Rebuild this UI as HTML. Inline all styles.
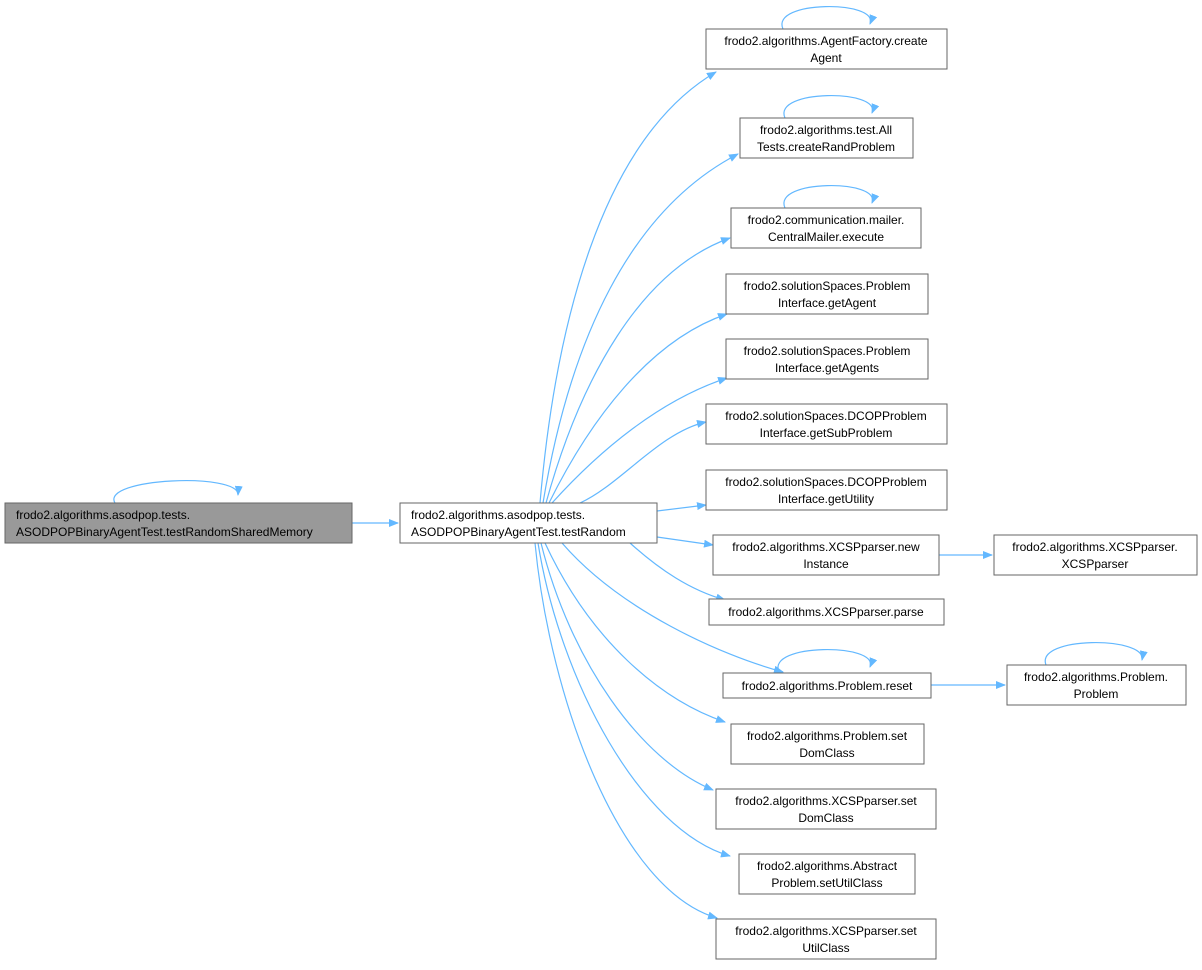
<!DOCTYPE html>
<html><head><meta charset="utf-8"><style>
html,body{margin:0;padding:0;background:#fff;}
svg text{font-family:"Liberation Sans",Helvetica,Arial,sans-serif;font-size:12px;fill:#000;}
</style></head><body>
<svg width="1202" height="965" viewBox="0 0 1202 965" xmlns="http://www.w3.org/2000/svg">
<defs>
<marker id="a" markerWidth="10" markerHeight="8" refX="9" refY="4" orient="auto" markerUnits="userSpaceOnUse">
<path d="M0,0 L10,4 L0,8 z" fill="#63b8ff"/>
</marker>
</defs>
<g fill="none" stroke="#63b8ff" stroke-width="1.2" marker-end="url(#a)">
<path d="M115,503 C100,478 240,472 238,495"/>
<path d="M783,29 C770,0 880,0 870,24"/>
<path d="M785,118 C772,89 882,89 872,113"/>
<path d="M785,208 C772,179 882,179 872,203"/>
<path d="M779,672 C766,643 880,643 870,667"/>
<path d="M1046,665 C1035,636 1147,636 1142,660"/>
<path d="M352,523 L398,523"/>
<path d="M540,503 C555,330 600,140 716,72"/>
<path d="M543,503 C570,340 630,210 738,154"/>
<path d="M546,503 C580,380 640,270 730,238"/>
<path d="M549,503 C590,420 650,340 727,314"/>
<path d="M552,503 C600,450 660,400 727,378"/>
<path d="M580,503 C620,485 660,432 706,422"/>
<path d="M657,511 L706,505"/>
<path d="M657,537 L713,545"/>
<path d="M630,543 C660,570 690,590 725,600"/>
<path d="M562,543 C620,610 720,655 783,672"/>
<path d="M545,543 C590,640 660,700 725,722"/>
<path d="M541,543 C570,660 640,760 713,790"/>
<path d="M538,543 C560,680 640,830 730,856"/>
<path d="M535,543 C550,700 620,890 717,918"/>
<path d="M939,555 L992,555"/>
<path d="M931,685 L1005,685"/>
</g>
<g stroke="#666" stroke-width="1">
<rect x="5" y="503" width="347" height="40" fill="#999"/>
<rect x="400" y="503" width="257" height="40" fill="#fff"/>
<rect x="706" y="29" width="241" height="40" fill="#fff"/>
<rect x="740" y="118" width="173" height="40" fill="#fff"/>
<rect x="731" y="208" width="190" height="40" fill="#fff"/>
<rect x="726" y="274" width="202" height="40" fill="#fff"/>
<rect x="726" y="339" width="202" height="40" fill="#fff"/>
<rect x="706" y="404" width="241" height="40" fill="#fff"/>
<rect x="706" y="470" width="241" height="40" fill="#fff"/>
<rect x="713" y="535" width="226" height="40" fill="#fff"/>
<rect x="994" y="535" width="203" height="40" fill="#fff"/>
<rect x="709" y="599" width="235" height="26" fill="#fff"/>
<rect x="723" y="673" width="208" height="25" fill="#fff"/>
<rect x="1007" y="665" width="179" height="40" fill="#fff"/>
<rect x="731" y="724" width="193" height="40" fill="#fff"/>
<rect x="716" y="789" width="220" height="40" fill="#fff"/>
<rect x="739" y="854" width="176" height="40" fill="#fff"/>
<rect x="716" y="919" width="220" height="40" fill="#fff"/>
</g>
<g>
<text x="16" y="519">frodo2.algorithms.asodpop.tests.</text>
<text x="16" y="536">ASODPOPBinaryAgentTest.testRandomSharedMemory</text>
<text x="411" y="519">frodo2.algorithms.asodpop.tests.</text>
<text x="411" y="536">ASODPOPBinaryAgentTest.testRandom</text>
</g>
<g text-anchor="middle">
<text x="826" y="45">frodo2.algorithms.AgentFactory.create</text>
<text x="826" y="62">Agent</text>
<text x="826" y="134">frodo2.algorithms.test.All</text>
<text x="826" y="151">Tests.createRandProblem</text>
<text x="826" y="224">frodo2.communication.mailer.</text>
<text x="826" y="241">CentralMailer.execute</text>
<text x="827" y="290">frodo2.solutionSpaces.Problem</text>
<text x="827" y="307">Interface.getAgent</text>
<text x="827" y="355">frodo2.solutionSpaces.Problem</text>
<text x="827" y="372">Interface.getAgents</text>
<text x="826" y="420">frodo2.solutionSpaces.DCOPProblem</text>
<text x="826" y="437">Interface.getSubProblem</text>
<text x="826" y="486">frodo2.solutionSpaces.DCOPProblem</text>
<text x="826" y="503">Interface.getUtility</text>
<text x="826" y="551">frodo2.algorithms.XCSPparser.new</text>
<text x="826" y="568">Instance</text>
<text x="1095" y="551">frodo2.algorithms.XCSPparser.</text>
<text x="1095" y="568">XCSPparser</text>
<text x="826" y="616">frodo2.algorithms.XCSPparser.parse</text>
<text x="827" y="690">frodo2.algorithms.Problem.reset</text>
<text x="1096" y="681">frodo2.algorithms.Problem.</text>
<text x="1096" y="698">Problem</text>
<text x="827" y="740">frodo2.algorithms.Problem.set</text>
<text x="827" y="757">DomClass</text>
<text x="826" y="805">frodo2.algorithms.XCSPparser.set</text>
<text x="826" y="822">DomClass</text>
<text x="827" y="870">frodo2.algorithms.Abstract</text>
<text x="827" y="887">Problem.setUtilClass</text>
<text x="826" y="935">frodo2.algorithms.XCSPparser.set</text>
<text x="826" y="952">UtilClass</text>
</g>
</svg>
</body></html>
